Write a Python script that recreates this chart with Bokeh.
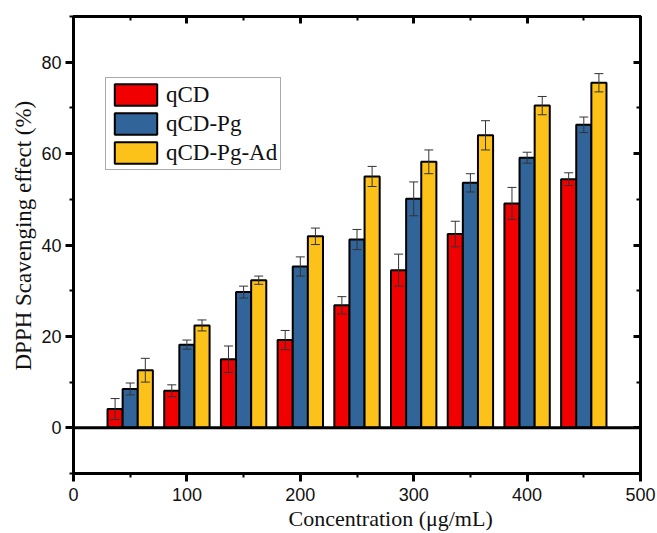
from bokeh.plotting import figure
from bokeh.models import (ColumnDataSource, Range1d, LinearAxis, SingleIntervalTicker,
                          Whisker, TeeHead, Span, Legend, LegendItem, Title,
                          CustomJSTickFormatter)
from bokeh.transform import dodge
from bokeh.embed import file_html
from bokeh.resources import INLINE

# ---- data ----
conc = [50, 100, 150, 200, 250, 300, 350, 400, 450]
qcd = [4.1, 8.1, 15.0, 19.2, 26.8, 34.5, 42.4, 49.1, 54.4]
qcd_err = [2.3, 1.3, 2.9, 2.1, 1.9, 3.5, 2.8, 3.5, 1.4]
pg = [8.5, 18.2, 29.7, 35.3, 41.2, 50.1, 53.6, 59.1, 66.3]
pg_err = [1.3, 1.0, 1.3, 2.1, 2.2, 3.7, 2.0, 1.2, 1.7]
ad = [12.6, 22.4, 32.3, 41.9, 55.0, 58.2, 64.0, 70.5, 75.5]
ad_err = [2.6, 1.2, 0.9, 1.8, 2.2, 2.6, 3.2, 2.0, 2.0]
series_names = ["qCD", "qCD-Pg", "qCD-Pg-Ad"]
x_label = "Concentration (\u03bcg/mL)"
y_label = "DPPH Scavenging effect (%)"

colors = ["#F00000", "#31659A", "#FDC21A"]
bar_w = 40 / 3
offsets = [-bar_w, 0, bar_w]

SERIF = "Liberation Serif"
SANS = "Liberation Sans"

p = figure(width=657, height=533, output_backend="svg", toolbar_location=None,
           x_range=Range1d(0, 500), y_range=Range1d(-10, 90),
           min_border_left=73, min_border_right=17, min_border_top=16, min_border_bottom=60)
p.grid.visible = False
p.outline_line_color = "black"
p.outline_line_width = 3
p.background_fill_color = "white"
p.border_fill_color = "white"

renderers = []
for vals, errs, col, off in zip([qcd, pg, ad], [qcd_err, pg_err, ad_err], colors, offsets):
    xs = [c + off for c in conc]
    src = ColumnDataSource(dict(conc=conc, val=vals, x=xs,
                                lo=[v - e for v, e in zip(vals, errs)],
                                hi=[v + e for v, e in zip(vals, errs)]))
    r = p.vbar(x=dodge("conc", off), top="val", bottom=0, width=bar_w, source=src,
               fill_color=col, line_color="black", line_width=2)
    renderers.append(r)
    w = Whisker(source=src, base="x", lower="lo", upper="hi", dimension="height",
                line_color="#333333", line_width=1, level="overlay",
                upper_head=TeeHead(size=9, line_color="#333333", line_width=1),
                lower_head=TeeHead(size=9, line_color="#333333", line_width=1))
    p.add_layout(w)

p.add_layout(Span(location=0, dimension="width", line_color="black", line_width=3))

# ---- axes ----
xt = SingleIntervalTicker(interval=100, num_minor_ticks=2)
yt = SingleIntervalTicker(interval=20, num_minor_ticks=2)
p.xaxis.ticker = xt
p.yaxis.ticker = yt
for ax in (p.xaxis[0], p.yaxis[0]):
    ax.axis_line_width = 3
    ax.major_tick_line_width = 3
    ax.minor_tick_line_width = 2
    ax.major_tick_out = 8
    ax.major_tick_in = 0
    ax.minor_tick_out = 4
    ax.minor_tick_in = 0
    ax.major_label_text_font = SANS
    ax.major_label_text_font_size = "18px"
    ax.major_label_text_color = "#111111"
p.xaxis.major_label_standoff = 6
p.yaxis.major_label_standoff = 4

blank = CustomJSTickFormatter(code="return ''")
for side, tk in (("above", xt), ("right", yt)):
    ax = LinearAxis(ticker=tk, formatter=blank)
    ax.axis_line_width = 3
    ax.major_tick_line_width = 3
    ax.minor_tick_line_width = 2
    ax.major_tick_in = 7
    ax.major_tick_out = 0
    ax.minor_tick_in = 4
    ax.minor_tick_out = 0
    ax.major_label_standoff = 0
    p.add_layout(ax, side)

# axis titles, placed as in the reference (slightly off-centre)
p.add_layout(Title(text=x_label, align="left", offset=215, standoff=0,
                   text_font=SERIF, text_font_size="22px", text_font_style="normal",
                   text_color="#111111"), "below")
p.add_layout(Title(text=y_label, align="left", offset=103, standoff=5,
                   text_font=SERIF, text_font_size="23px", text_font_style="normal",
                   text_color="#111111"), "left")

legend = Legend(items=[LegendItem(label=n, renderers=[r]) for n, r in zip(series_names, renderers)],
                location=(32, 303))
legend.label_text_font = SERIF
legend.label_text_font_size = "23px"
legend.label_text_color = "#111111"
legend.glyph_width = 53
legend.glyph_height = 27
legend.label_height = 27
legend.label_standoff = 4
legend.spacing = 2
legend.padding = 3
legend.margin = 0
legend.border_line_color = "#555555"
legend.border_line_width = 1
legend.background_fill_alpha = 1
p.add_layout(legend)

open("out.html", "w").write(file_html(p, INLINE))
